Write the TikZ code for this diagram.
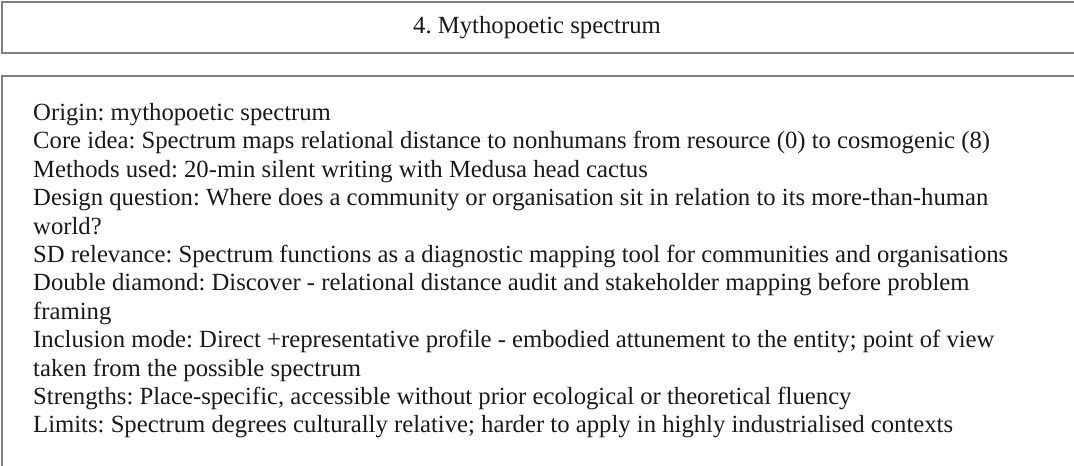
\documentclass[tikz,border=0pt]{standalone}
\usepackage{fontspec}
\setmainfont{Liberation Serif}
\frenchspacing
\tikzset{
  panel/.style={draw=black!50, line width=1.3bp},
  bodytext/.style={anchor=north west, inner sep=0pt, align=left, font=\fontsize{24.7bp}{28.4bp}\selectfont, text=black!90},
  titletext/.style={inner sep=0pt, font=\fontsize{24.7bp}{28.4bp}\selectfont, text=black!90}
}
\begin{document}
\begin{tikzpicture}[x=1bp,y=-1bp]
\useasboundingbox (0,0) rectangle (1074,466);
\path[panel] (2,2) rectangle (1080,53);
\path[panel] (2,76) rectangle (1080,480);
\node[titletext] (title) at (537,27.5) {4. Mythopoetic spectrum};
\node[bodytext] (body) at (33,103.2) {Origin: mythopoetic spectrum\\
Core idea: Spectrum maps relational distance to nonhumans from resource (0) to cosmogenic (8)\\
Methods used: 20-min silent writing with Medusa head cactus\\
Design question: Where does a community or organisation sit in relation to its more-than-human\\
world?\\
SD relevance: Spectrum functions as a diagnostic mapping tool for communities and organisations\\
Double diamond: Discover - relational distance audit and stakeholder mapping before problem\\
framing\\
Inclusion mode: Direct +representative profile - embodied attunement to the entity; point of view\\
taken from the possible spectrum\\
Strengths: Place-specific, accessible without prior ecological or theoretical fluency\\
Limits: Spectrum degrees culturally relative; harder to apply in highly industrialised contexts};
\end{tikzpicture}
\end{document}
